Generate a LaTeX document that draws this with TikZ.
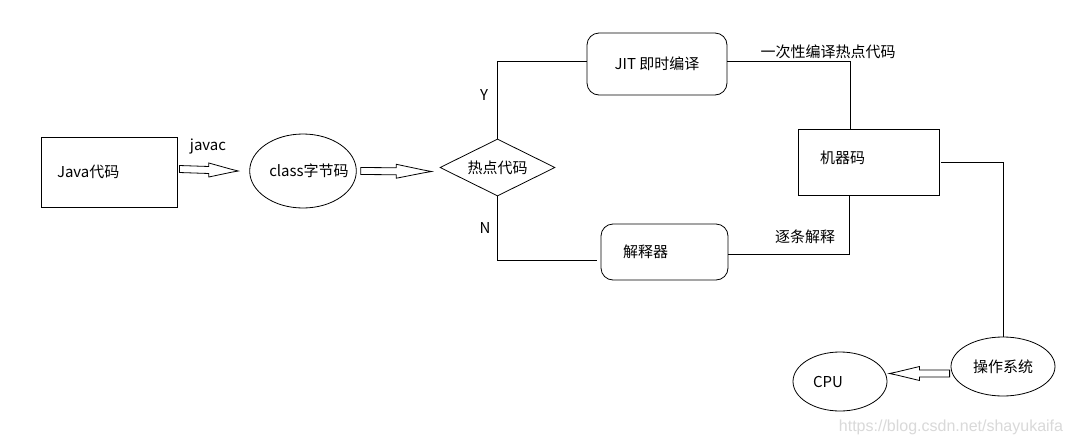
\documentclass[tikz,border=0pt]{standalone}
\usepackage{fontspec}
\setmainfont{Noto Sans CJK SC}
\newfontfamily\markfont{Liberation Sans}
\usetikzlibrary{shapes}
\usetikzlibrary{calc}
\tikzset{
	basenode/.style = {
		align=center,
		inner sep=0pt,
		draw=black,
		line width=0.8pt,
		font=\fontsize{15}{18}\selectfont
	},
	node_box/.style = {
		basenode,
		rectangle
	},
	node_round/.style = {
		basenode,
		rectangle,
		rounded corners=12pt
	},
	node_ell/.style = {
		basenode,
		ellipse
	},
	node_dia/.style = {
		basenode,
		diamond,
		aspect=2
	},
	node_lbl/.style = {
		inner sep=0pt,
		font=\fontsize{15}{18}\selectfont
	},
	link/.style = {
		line width=0.8pt
	},
	hollow/.style = {
		line width=0.8pt,
		fill=white,
		to path={
			($(\tikztostart)+(0pt,3.5pt)$) -- ($(\tikztostart)!.5!(\tikztotarget)+(0pt,3.5pt)$)
			-- ($(\tikztostart)!.5!(\tikztotarget)+(0pt,7pt)$) -- ($(\tikztostart)!.88!(\tikztotarget)+(0pt,1.5pt)$)
			-- (\tikztotarget) -- ($(\tikztostart)!.88!(\tikztotarget)+(0pt,-1.5pt)$)
			-- ($(\tikztostart)!.5!(\tikztotarget)+(0pt,-7pt)$) -- ($(\tikztostart)!.5!(\tikztotarget)+(0pt,-3.5pt)$)
			-- ($(\tikztostart)+(0pt,-3.5pt)$) -- cycle
		}
	},
}
\begin{document}
\begin{tikzpicture}[x=1pt,y=-1pt]
\fill[white] (0,0) rectangle (1072,445);
\useasboundingbox (0,0) rectangle (1072,445);

% nodes
\node [node_box, minimum width=136, minimum height=70, text width=104, align=left] (java) at (109,172) {Java代码};
\node [node_ell, minimum width=104, minimum height=74, inner xsep=-8pt] (class) at (303,171) {\hspace*{12pt}class字节码};
\node [node_dia, minimum width=115, minimum height=57] (hot) at (497.5,167.5) {热点代码};
\node [node_round, minimum width=140, minimum height=62] (jit) at (657,64) {JIT 即时编译};
\node [node_round, minimum width=127, minimum height=56, text width=83, align=left] (interp) at (664.5,252) {解释器};
\node [node_box, minimum width=141, minimum height=66, text width=97, align=left] (mc) at (868.5,162) {\raisebox{9pt}{机器码}};
\node [node_ell, minimum width=104, minimum height=59] (os) at (1003,366.5) {操作系统};
\node [node_ell, minimum width=94, minimum height=59, text width=54, align=left] (cpu) at (840,381.5) {CPU};

% labels
\node [node_lbl] (javac) at (208,146) {javac};
\node [node_lbl] (yes) at (484,95) {Y};
\node [node_lbl] (no) at (485,228) {N};
\node [node_lbl] (once) at (828,52) {一次性编译热点代码};
\node [node_lbl] (step) at (805,237) {逐条解释};
\node [inner sep=0pt, text=black!15, font=\markfont\fontsize{16}{18}\selectfont] (mark) at (951,427) {https://blog.csdn.net/shayukaifa};

% hollow arrows
\draw [hollow] ([xshift=2pt,yshift=3pt]java.east) to ([xshift=-11pt,yshift=0pt]class.west);
\draw [hollow] ([xshift=4pt]class.east) to ([xshift=-8pt,yshift=-4pt]hot.west);
\draw [hollow] ([xshift=-1pt,yshift=-7pt]os.west) to ([xshift=2pt,yshift=8pt]cpu.east);

% links
\draw [link] (hot.north) |- ([yshift=3pt]jit.west);
\draw [link] (hot.south) |- ([xshift=-4pt,yshift=-8pt]interp.west);
\draw [link] ([yshift=3pt]jit.east) -| ([xshift=-18pt]mc.north);
\draw [link] ([yshift=-2pt]interp.east) -| ([xshift=-19pt]mc.south);
\draw [link] ([xshift=2pt]mc.east) -| (os.north);
\end{tikzpicture}
\end{document}
